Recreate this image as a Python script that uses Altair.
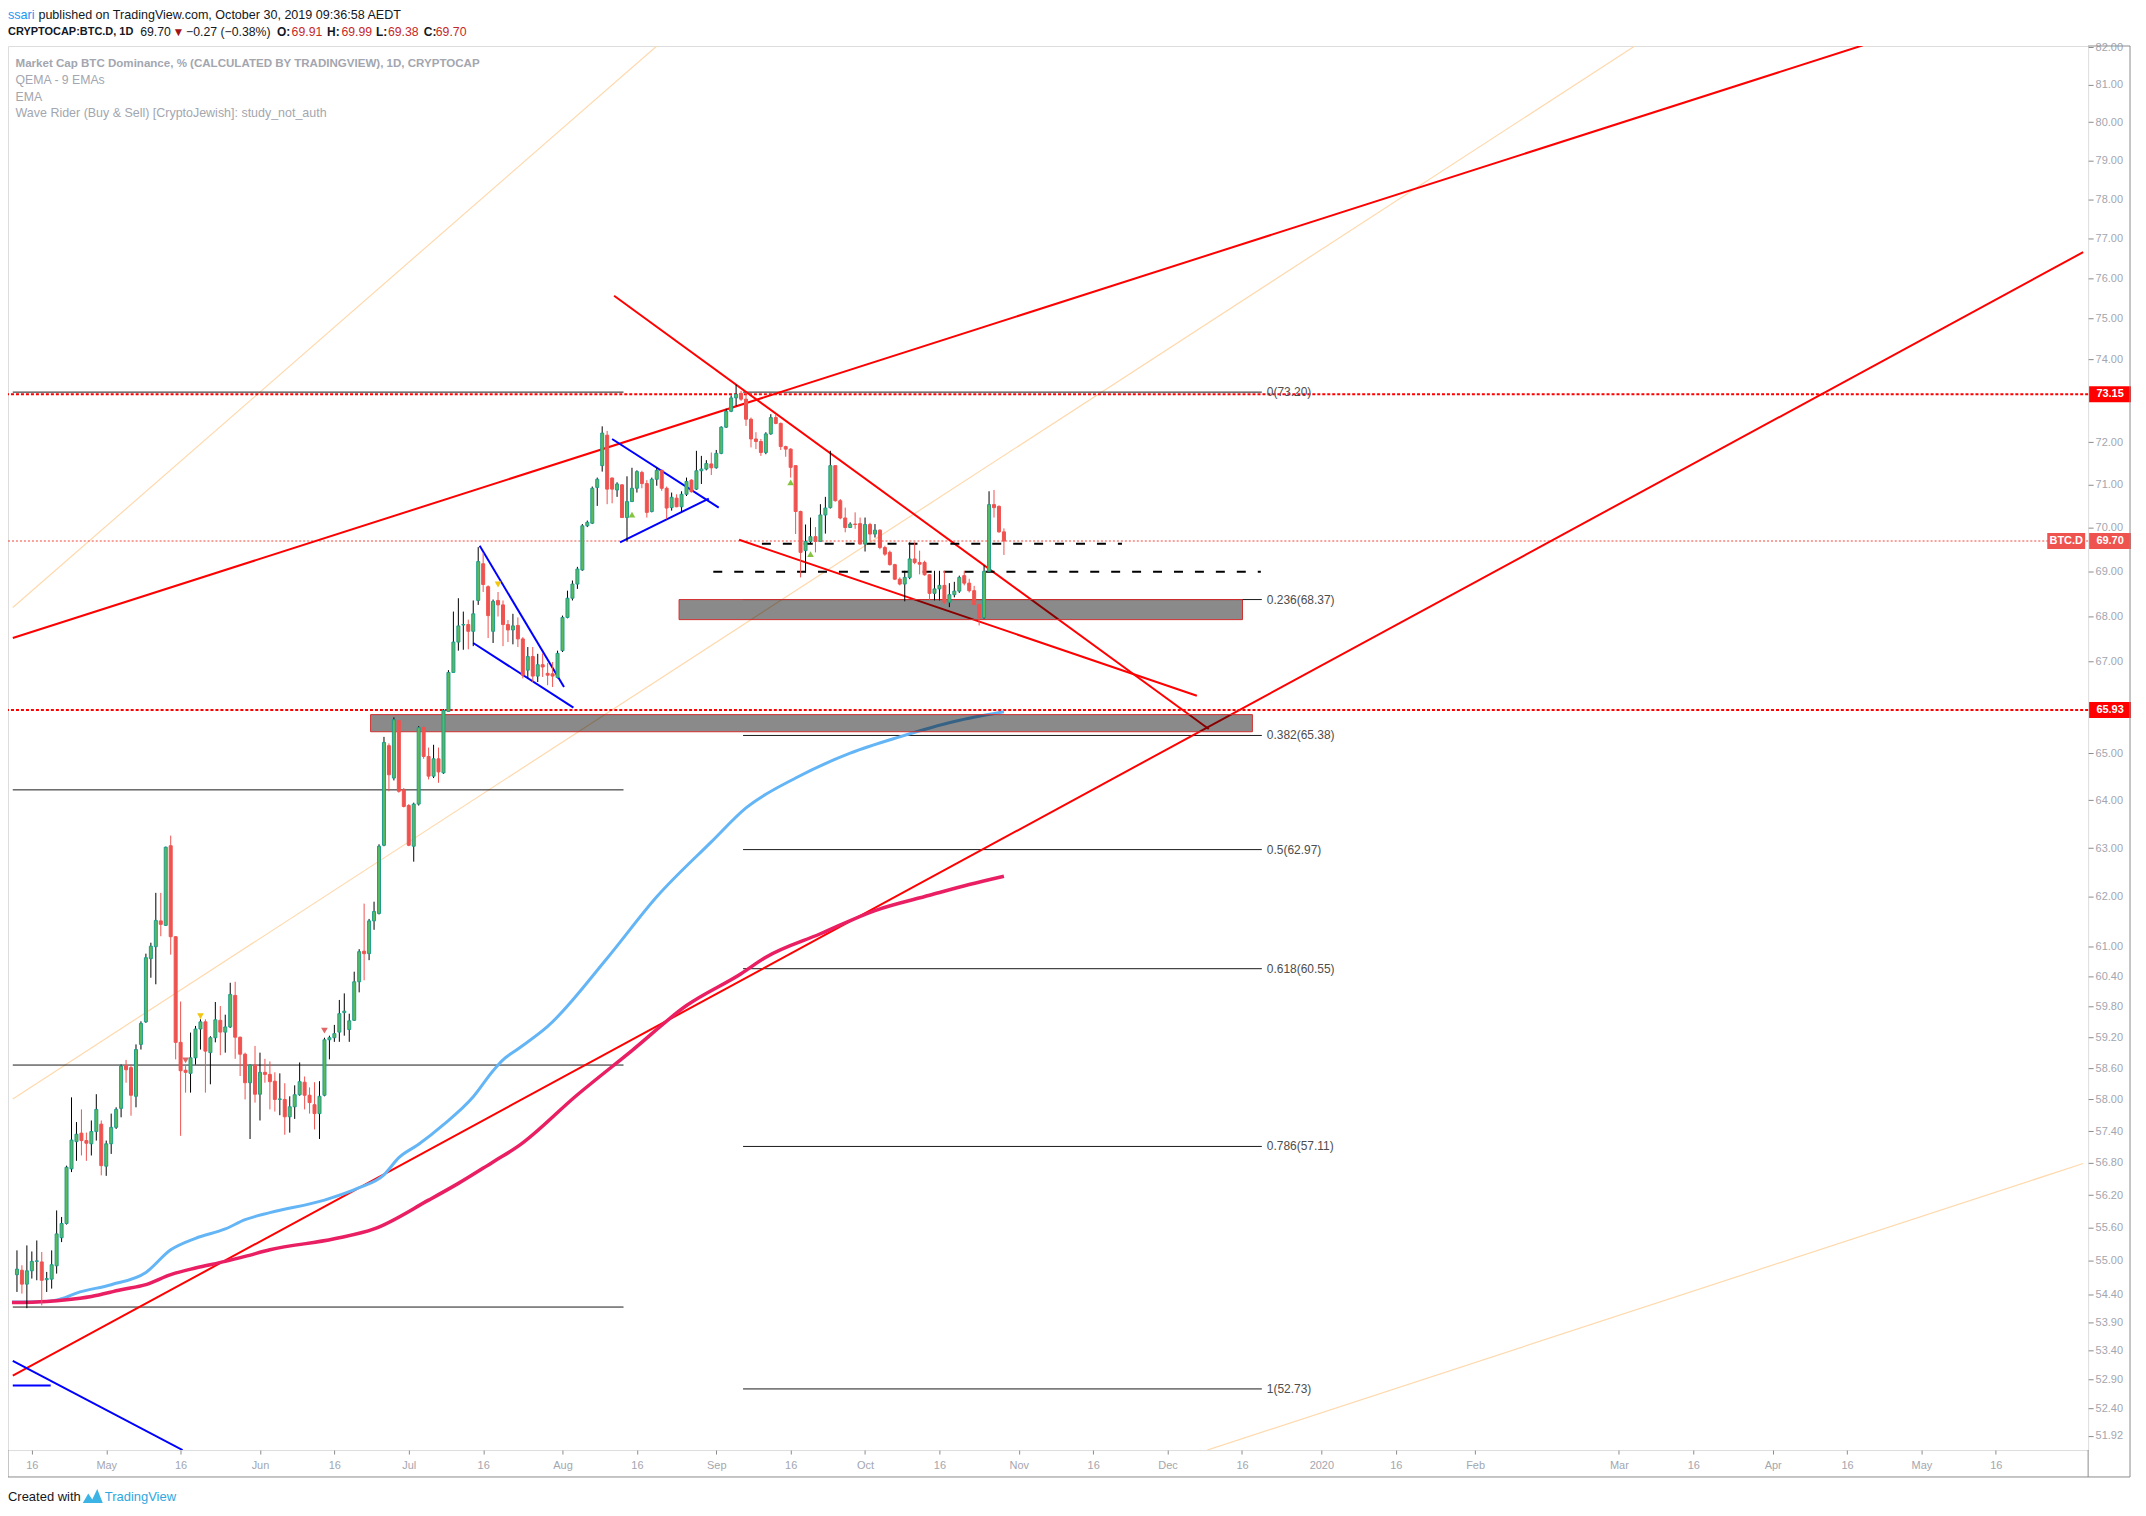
import altair as alt
import pandas as pd
import numpy as np

BASE_DAY = "2019-04-13"   # first daily candle

opens = [
    54.75, 54.83, 54.58, 54.82, 54.99, 54.98, 54.66, 54.67, 54.91, 55.42,
    55.68, 56.69, 57.20, 57.36, 57.22, 57.16, 57.39, 57.53, 56.74, 57.16,
    57.47, 57.83, 58.65, 58.61, 58.06, 59.06, 59.50, 60.75, 60.99, 61.51,
    61.42, 63.05, 61.19, 59.10, 58.56, 58.50, 58.80, 59.36, 59.50, 58.90,
    59.19, 59.53, 59.30, 59.40, 60.02, 59.20, 58.87, 58.32, 58.66, 58.10,
    58.52, 58.48, 58.35, 58.00, 58.00, 57.67, 57.86, 58.09, 58.33, 58.08,
    57.90, 57.73, 58.08, 59.15, 59.19, 59.30, 59.68, 59.35, 59.53, 60.29,
    60.90, 60.85, 61.51, 61.66, 63.06, 65.16, 64.47, 65.70, 64.22, 63.89,
    63.04, 63.92, 65.55, 64.93, 64.51, 64.88, 64.58, 65.90, 66.75, 67.42,
    67.80, 67.81, 67.66, 68.35, 69.18, 68.66, 67.66, 68.35, 68.25, 67.81,
    67.69, 67.79, 67.49, 66.80, 67.10, 66.67, 66.92, 66.73, 66.72, 66.64,
    67.23, 67.97, 68.40, 68.72, 69.04, 70.05, 70.11, 70.94, 71.45, 72.17,
    71.16, 70.88, 71.00, 70.24, 70.61, 70.92, 71.29, 71.03, 70.38, 71.13,
    71.34, 70.92, 70.47, 70.69, 70.49, 70.78, 71.11, 70.90, 71.33, 71.37,
    71.49, 71.40, 71.74, 72.36, 72.74, 73.06, 73.17, 73.03, 72.55, 72.08,
    72.02, 71.76, 72.20, 72.59, 72.45, 71.90, 71.84, 71.45, 70.38, 69.48,
    69.69, 69.80, 69.69, 70.30, 70.47, 71.45, 70.63, 70.23, 70.01, 70.09,
    70.10, 69.63, 70.08, 69.86, 69.95, 69.55, 69.44, 69.16, 68.83, 68.72,
    68.87, 69.29, 69.21, 69.21, 68.93, 68.51, 68.61, 68.69, 68.31, 68.48,
    68.56, 68.91, 68.74, 68.57, 68.26, 67.96, 69.01, 70.54, 70.50, 69.91,
]
highs = [
    55.19, 54.92, 55.28, 55.17, 55.37, 55.16, 54.80, 55.19, 55.92, 55.80,
    56.75, 58.04, 57.57, 57.81, 57.37, 57.60, 58.10, 57.60, 57.22, 57.73,
    57.85, 58.67, 58.76, 58.67, 59.06, 59.51, 60.85, 61.07, 62.08, 62.08,
    63.03, 63.26, 61.20, 59.90, 58.64, 59.29, 59.42, 59.55, 59.55, 59.22,
    59.89, 59.81, 59.64, 60.27, 60.29, 59.21, 58.90, 58.67, 59.03, 58.90,
    58.78, 58.73, 58.52, 58.50, 58.31, 58.06, 58.27, 58.71, 58.44, 58.23,
    58.33, 58.35, 59.19, 59.23, 59.44, 59.93, 60.06, 59.66, 60.49, 60.94,
    61.86, 61.55, 61.90, 63.08, 65.35, 65.21, 65.77, 65.72, 64.26, 63.92,
    63.95, 65.58, 65.58, 65.12, 65.18, 65.12, 65.95, 66.80, 68.10, 68.40,
    68.10, 67.92, 68.35, 69.56, 69.43, 68.69, 68.37, 68.54, 68.35, 67.91,
    68.05, 67.97, 67.53, 67.31, 67.31, 67.16, 67.17, 66.96, 66.98, 67.23,
    68.01, 68.57, 68.80, 69.11, 70.09, 70.17, 70.96, 71.17, 72.38, 72.27,
    71.17, 71.06, 71.02, 71.20, 71.40, 71.34, 71.33, 71.11, 71.17, 71.40,
    71.37, 70.96, 70.82, 70.78, 70.85, 71.17, 71.13, 71.80, 71.68, 71.58,
    71.76, 71.82, 72.38, 72.80, 73.12, 73.38, 73.23, 73.19, 72.59, 72.24,
    72.08, 72.24, 72.67, 72.67, 72.47, 71.92, 71.86, 71.45, 70.40, 70.08,
    70.24, 70.02, 70.55, 70.72, 71.80, 71.45, 70.67, 70.47, 70.13, 70.36,
    70.24, 70.24, 70.12, 70.09, 69.97, 69.59, 69.48, 69.18, 68.87, 69.02,
    69.67, 69.67, 69.48, 69.25, 68.94, 69.02, 69.02, 69.02, 68.74, 68.77,
    68.91, 69.02, 68.84, 68.68, 68.27, 69.14, 70.85, 70.88, 70.52, 69.99,
]
lows = [
    54.44, 54.41, 54.15, 54.68, 54.65, 54.20, 54.44, 54.50, 54.77, 55.34,
    55.66, 56.63, 56.84, 56.94, 56.84, 56.94, 57.22, 56.57, 56.56, 56.97,
    57.44, 57.66, 58.32, 57.69, 57.85, 58.96, 59.48, 60.37, 60.24, 61.20,
    61.41, 60.83, 58.77, 57.31, 58.13, 58.13, 58.67, 58.96, 58.13, 58.29,
    59.10, 58.85, 58.90, 59.38, 58.78, 58.45, 58.00, 57.25, 57.94, 57.60,
    58.32, 57.81, 57.77, 57.70, 57.33, 57.37, 57.63, 58.07, 57.81, 57.73,
    57.43, 57.25, 58.06, 58.77, 59.11, 59.11, 59.23, 59.11, 59.52, 60.08,
    60.32, 60.72, 61.33, 61.64, 63.04, 64.19, 64.42, 64.16, 63.85, 63.04,
    62.72, 63.89, 64.88, 64.44, 64.47, 64.37, 64.56, 65.90, 66.75, 67.23,
    67.25, 67.26, 67.33, 68.25, 68.54, 67.51, 67.40, 67.99, 67.33, 67.42,
    67.37, 67.31, 66.62, 66.62, 66.54, 66.54, 66.65, 66.47, 66.43, 66.62,
    67.20, 67.95, 68.35, 68.61, 69.02, 70.02, 70.09, 70.51, 71.31, 70.55,
    70.57, 70.72, 70.23, 69.69, 70.60, 70.82, 70.92, 70.24, 70.36, 70.98,
    70.86, 70.20, 70.40, 70.48, 70.36, 70.74, 70.82, 70.88, 71.02, 71.34,
    71.23, 71.38, 71.72, 72.34, 72.72, 72.87, 72.99, 72.39, 71.88, 71.84,
    71.68, 71.72, 72.18, 72.43, 71.82, 71.66, 71.17, 69.86, 68.87, 68.98,
    69.64, 69.44, 69.69, 69.87, 70.45, 70.61, 70.20, 69.90, 70.00, 69.98,
    69.62, 69.46, 69.71, 69.78, 69.51, 69.36, 69.14, 68.81, 68.69, 68.33,
    68.83, 69.17, 68.94, 68.91, 68.35, 68.35, 68.35, 68.27, 68.20, 68.42,
    68.52, 68.69, 68.53, 68.24, 67.79, 67.94, 68.99, 70.24, 69.89, 69.38,
]
closes = [
    54.85, 54.58, 54.82, 54.99, 55.00, 54.65, 54.68, 54.93, 55.49, 55.68,
    56.72, 57.23, 57.34, 57.22, 57.17, 57.39, 57.81, 56.75, 57.16, 57.47,
    57.81, 58.64, 58.57, 58.08, 58.96, 59.47, 60.77, 61.00, 61.52, 61.44,
    63.02, 61.19, 59.10, 58.55, 58.52, 58.80, 59.36, 59.50, 58.93, 59.19,
    59.54, 59.30, 59.40, 60.04, 59.20, 58.87, 58.32, 58.66, 58.10, 58.52,
    58.48, 58.34, 58.00, 58.01, 57.67, 57.86, 58.09, 58.34, 58.08, 57.94,
    57.73, 58.06, 59.15, 59.19, 59.27, 59.66, 59.71, 59.52, 60.29, 60.89,
    60.85, 61.51, 61.70, 63.04, 65.23, 64.54, 65.72, 64.19, 63.87, 63.06,
    63.92, 65.55, 64.93, 64.51, 64.88, 64.60, 65.92, 66.75, 67.42, 67.78,
    67.81, 67.66, 68.05, 69.23, 68.71, 68.01, 68.33, 68.25, 67.81, 67.69,
    67.78, 67.49, 66.69, 67.10, 66.67, 66.92, 66.87, 66.69, 66.67, 67.17,
    67.97, 68.40, 68.72, 69.06, 70.05, 70.13, 70.92, 71.13, 72.22, 70.90,
    70.90, 71.02, 70.24, 70.61, 70.92, 71.31, 71.03, 70.36, 71.13, 71.34,
    70.92, 70.46, 70.71, 70.49, 70.78, 71.08, 70.84, 71.33, 71.37, 71.50,
    71.40, 71.74, 72.36, 72.74, 73.06, 73.15, 73.03, 72.55, 72.08, 72.02,
    71.76, 72.20, 72.59, 72.45, 71.90, 71.84, 71.41, 70.38, 69.44, 69.69,
    69.80, 69.69, 70.30, 70.46, 71.45, 70.63, 70.23, 70.01, 70.09, 70.08,
    69.63, 70.08, 69.86, 69.95, 69.55, 69.40, 69.16, 68.83, 68.72, 68.87,
    69.29, 69.21, 69.17, 68.93, 68.51, 68.61, 68.69, 68.31, 68.48, 68.56,
    68.87, 68.74, 68.57, 68.26, 67.96, 69.01, 70.54, 70.47, 69.91, 69.70,
]

# EMA readings (day offset from BASE_DAY, value)
ema_blue_days = [-1, 6, 9, 12, 19, 26, 31, 36, 42, 46, 51, 62, 69, 74, 77, 81, 86, 92, 96,
                 98, 101, 107, 119, 129, 140, 147, 157, 168, 178, 189, 199]
ema_blue = [54.26, 54.27, 54.32, 54.42, 54.57, 54.79, 55.20, 55.41, 55.58, 55.75, 55.88,
            56.11, 56.34, 56.58, 56.90, 57.15, 57.52, 58.05, 58.55, 58.76, 58.97, 59.41,
            60.76, 62.00, 63.13, 63.84, 64.47, 65.00, 65.35, 65.68, 65.89]
ema_red_days = [-1, 6, 10, 15, 21, 26, 31, 36, 42, 46, 51, 64, 72, 83, 89, 96, 101, 113,
                124, 135, 146, 151, 162, 173, 184, 192, 199]
ema_red = [54.25, 54.27, 54.30, 54.36, 54.48, 54.57, 54.75, 54.87, 54.99, 55.08, 55.20,
           55.40, 55.58, 56.11, 56.42, 56.82, 57.11, 58.09, 58.94, 59.82, 60.45, 60.78,
           61.25, 61.72, 62.03, 62.25, 62.42]

# drawn trend lines: name, start day, start price, end day, end price
red_lines = [
    ("channel_top", -0.84, 67.51, 372.2, 82.05),
    ("channel_bottom", -0.84, 52.96, 416.6, 76.65),
    ("wedge_top", 120.4, 75.56, 240.3, 65.52),
    ("wedge_bottom", 145.6, 69.73, 237.9, 66.24),
]
blue_lines = [
    ("flag_top", 93.3, 69.59, 110.3, 66.43),
    ("flag_bottom", 92.0, 67.40, 112.2, 65.98),
    ("pennant_top", 120.0, 72.08, 141.5, 70.47),
    ("pennant_bottom", 121.6, 69.67, 139.5, 70.68),
    ("old_down", -0.84, 53.22, 33.4, 51.68),
    ("old_flat", -0.84, 52.79, 6.8, 52.79),
]
fan_lines = [
    ("fan_1", -0.84, 68.19, 129.0, 82.03),
    ("fan_2", -0.84, 58.01, 326.2, 82.03),
    ("fan_3", 240.0, 51.68, 416.6, 56.79),
]
left_levels = [73.20, 64.22, 58.66, 54.17]
left_level_span = (-0.84, 122.3)
fib_levels = [73.20, 68.37, 65.38, 62.97, 60.55, 57.11, 52.73]
fib_labels = ["0(73.20)", "0.236(68.37)", "0.382(65.38)", "0.5(62.97)",
              "0.618(60.55)", "0.786(57.11)", "1(52.73)"]
fib_span = (146.4, 251.0)
dashed_levels = [(150.2, 222.8, 69.64), (140.4, 250.8, 69.00)]
zones = [(133.5, 247.1, 67.92, 68.37), (71.3, 249.1, 65.46, 65.83)]
alert_levels = [73.15, 65.93]
last_price = 69.70
buy_marks = [(124, 70.31), (156, 71.06), (160, 69.40)]
sell_marks = [(34, 58.75), (62, 59.33)]
warn_marks = [(37, 59.61), (97, 68.71)]

# 73.00 and 66.00 sit under the alert price boxes, so they are not labelled
y_ticks = [82, 81, 80, 79, 78, 77, 76, 75, 74, 72, 71, 70, 69, 68, 67, 65, 64, 63,
           62, 61, 60.4, 59.8, 59.2, 58.6, 58.0, 57.4, 56.8, 56.2, 55.6, 55.0, 54.4, 53.9,
           53.4, 52.9, 52.4, 51.92]
x_ticks = ["2019-04-16", "2019-05-01", "2019-05-16", "2019-06-01", "2019-06-16",
           "2019-07-01", "2019-07-16", "2019-08-01", "2019-08-16", "2019-09-01",
           "2019-09-16", "2019-10-01", "2019-10-16", "2019-11-01", "2019-11-16",
           "2019-12-01", "2019-12-16", "2020-01-01", "2020-01-16", "2020-02-01",
           "2020-03-01", "2020-03-16", "2020-04-01", "2020-04-16", "2020-05-01",
           "2020-05-16"]
y_domain = [51.68, 82.03]
x_domain_days = (-0.8, 416.6)

# ---------------------------------------------------------------- helpers
W, H = 2086, 1408
GRAY = "#a3a6af"
FONT = "Liberation Sans"


def when(day):
    t = pd.Timestamp(BASE_DAY) + pd.to_timedelta(day, unit="D")
    return t.strftime("%Y-%m-%dT%H:%M:%SZ")


def dt(s):
    t = pd.Timestamp(s)
    return alt.DateTime(year=t.year, month=t.month, date=t.day,
                        hours=t.hour, minutes=t.minute, utc=True)


XS = alt.Scale(type="utc", domain=[dt(when(x_domain_days[0])), dt(when(x_domain_days[1]))])
YS = alt.Scale(type="log", domain=y_domain, nice=False)
XAX = alt.Axis(values=[dt(s) for s in x_ticks],
               labelExpr="utcdate(datum.value) == 1 ? (utcmonth(datum.value) == 0 ? "
                         "utcFormat(datum.value, '%Y') : utcFormat(datum.value, '%b')) : "
                         "utcFormat(datum.value, '%d')",
               grid=False, domain=False, tickSize=4, tickColor="#8c8c8c",
               labelColor=GRAY, labelFontSize=11, labelFont=FONT, labelPadding=5,
               labelOverlap=False, labelFlush=False, title=None)
YAX = alt.Axis(orient="right", values=y_ticks, format=".2f", grid=False, domain=False,
               tickSize=5, tickColor="#8c8c8c", labelColor=GRAY, labelFontSize=11,
               labelFont=FONT, labelPadding=2, labelOverlap=False, labelFlush=False,
               title=None)


def X(f):
    return alt.X(f"{f}:T", scale=XS, axis=XAX, title=None)


def Y(f):
    return alt.Y(f"{f}:Q", scale=YS, axis=YAX, title=None)


def seg_df(lines):
    rows = []
    for name, d0, p0, d1, p1 in lines:
        rows.append({"id": name, "date": when(d0), "price": p0})
        rows.append({"id": name, "date": when(d1), "price": p1})
    return pd.DataFrame(rows)


# ---------------------------------------------------------------- data frames
n = len(opens)
cdf = pd.DataFrame({"date": [when(i) for i in range(n)], "open": opens, "high": highs,
                    "low": lows, "close": closes})
cdf["dir"] = np.where(cdf["close"] >= cdf["open"], "up", "down")
cdf["blo"] = cdf[["open", "close"]].min(axis=1)
cdf["bhi"] = cdf[["open", "close"]].max(axis=1)

layers = []

# fan lines (light orange)
layers.append(alt.Chart(seg_df(fan_lines)).mark_line(color="#ffd9ad", strokeWidth=1.2, clip=True)
              .encode(x=X("date"), y=Y("price"), detail="id:N"))

# horizontal black levels on the left
lv = pd.DataFrame({"start": when(left_level_span[0]), "end": when(left_level_span[1]),
                   "price": left_levels})
layers.append(alt.Chart(lv).mark_rule(color="#1a1a1a", strokeWidth=1)
              .encode(x=X("start"), x2="end:T", y=Y("price")))

# fib retracement lines
fb = pd.DataFrame({"start": when(fib_span[0]), "end": when(fib_span[1]),
                   "price": fib_levels, "label": fib_labels})
layers.append(alt.Chart(fb).mark_rule(color="#1a1a1a", strokeWidth=1)
              .encode(x=X("start"), x2="end:T", y=Y("price")))

# alert dotted lines
al = pd.DataFrame({"price": alert_levels})
layers.append(alt.Chart(al).mark_rule(color="#ff0000", strokeWidth=2, strokeDash=[3, 2])
              .encode(y=Y("price")))
lp = pd.DataFrame({"price": [last_price]})
layers.append(alt.Chart(lp).mark_rule(color="#f44336", strokeWidth=1, strokeDash=[2, 2])
              .encode(y=Y("price")))

# trend lines
layers.append(alt.Chart(seg_df(red_lines)).mark_line(color="#ff0000", strokeWidth=2, clip=True)
              .encode(x=X("date"), y=Y("price"), detail="id:N"))
layers.append(alt.Chart(seg_df(blue_lines)).mark_line(color="#0000ff", strokeWidth=2, clip=True)
              .encode(x=X("date"), y=Y("price"), detail="id:N"))

# EMAs
eb = pd.DataFrame({"date": [when(d) for d in ema_blue_days], "price": ema_blue})
er = pd.DataFrame({"date": [when(d) for d in ema_red_days], "price": ema_red})
layers.append(alt.Chart(eb).mark_line(color="#64b5f6", strokeWidth=3, clip=True,
                                      interpolate="monotone")
              .encode(x=X("date"), y=Y("price")))
layers.append(alt.Chart(er).mark_line(color="#e91e63", strokeWidth=3.5, clip=True,
                                      interpolate="monotone")
              .encode(x=X("date"), y=Y("price")))

# zones
zd = pd.DataFrame([{"start": when(a), "end": when(b), "lo": lo, "hi": hi}
                   for a, b, lo, hi in zones])
layers.append(alt.Chart(zd).mark_rect(fill="#000000", fillOpacity=0.46, stroke="#d32f2f",
                                      strokeWidth=1)
              .encode(x=X("start"), x2="end:T", y=Y("lo"), y2="hi:Q"))

# dashed black levels
dd = pd.DataFrame([{"start": when(a), "end": when(b), "price": p} for a, b, p in dashed_levels])
layers.append(alt.Chart(dd).mark_rule(color="#000000", strokeWidth=2, strokeDash=[9, 12])
              .encode(x=X("start"), x2="end:T", y=Y("price")))

# candles
dir_scale_wick = alt.Scale(domain=["up", "down"], range=["#000000", "#ef5350"])
dir_scale_fill = alt.Scale(domain=["up", "down"], range=["#5cb85c", "#ef5350"])
dir_scale_stroke = alt.Scale(domain=["up", "down"], range=["#1f9c8c", "#ef5350"])
layers.append(alt.Chart(cdf).mark_rule(strokeWidth=1)
              .encode(x=X("date"), y=Y("low"), y2="high:Q",
                      color=alt.Color("dir:N", scale=dir_scale_wick, legend=None)))
layers.append(alt.Chart(cdf).mark_bar(size=3, strokeWidth=1)
              .encode(x=X("date"), y=Y("blo"), y2="bhi:Q",
                      fill=alt.Fill("dir:N", scale=dir_scale_fill, legend=None),
                      stroke=alt.Stroke("dir:N", scale=dir_scale_stroke, legend=None)))

# signal markers
for marks, shape, col in [(buy_marks, "triangle-up", "#86c440"),
                          (sell_marks, "triangle-down", "#e06666"),
                          (warn_marks, "triangle-down", "#f2c50f")]:
    md = pd.DataFrame({"date": [when(d) for d, _ in marks], "price": [p for _, p in marks]})
    layers.append(alt.Chart(md).mark_point(shape=shape, filled=True, size=45, fill=col,
                                           strokeWidth=0, opacity=1)
                  .encode(x=X("date"), y=Y("price")))

# fib labels
layers.append(alt.Chart(fb).mark_text(align="left", baseline="middle", dx=5, fontSize=12,
                                      font=FONT, color="#4d4d4d")
              .encode(x=X("end"), y=Y("price"), text="label:N"))

# price labels on the axis
RECT42 = "M-1,-0.381L1,-0.381L1,0.381L-1,0.381Z"
RECT38 = "M-1,-0.421L1,-0.421L1,0.421L-1,0.421Z"
for prices, col in [(alert_levels, "#ff0000"), ([last_price], "#ef5350")]:
    bd = pd.DataFrame({"price": prices, "label": [f"{v:.2f}" for v in prices]})
    layers.append(alt.Chart(bd).mark_point(shape=RECT42, size=1764, filled=True, fill=col,
                                           strokeWidth=0, opacity=1)
                  .encode(x=alt.value(W + 22), y=Y("price")))
    layers.append(alt.Chart(bd).mark_text(color="white", fontWeight="bold", fontSize=11,
                                          font=FONT, align="center", baseline="middle")
                  .encode(x=alt.value(W + 22), y=Y("price"), text="label:N"))
sym = pd.DataFrame({"price": [last_price], "label": ["BTC.D"]})
layers.append(alt.Chart(sym).mark_point(shape=RECT38, size=1444, filled=True, strokeWidth=0,
                                        opacity=1, fill="#ef5350")
              .encode(x=alt.value(W - 22), y=Y("price")))
layers.append(alt.Chart(sym).mark_text(color="white", fontWeight="bold", fontSize=11, font=FONT,
                                       align="center", baseline="middle")
              .encode(x=alt.value(W - 22), y=Y("price"), text="label:N"))


# ---------------------------------------------------------------- texts & frame
def txt(s, x, y, size=12, color="#131722", weight="normal"):
    return (alt.Chart(pd.DataFrame({"t": [s]}))
            .mark_text(align="left", baseline="middle", fontSize=size, font=FONT,
                       color=color, fontWeight=weight)
            .encode(x=alt.value(x), y=alt.value(y), text="t:N"))


RED = "#c62828"
layers += [
    txt("ssari", 0, -31.5, 12.6, "#2196f3"),
    txt("published on TradingView.com, October 30, 2019 09:36:58 AEDT", 30.5, -31.5, 12.6),
    txt("CRYPTOCAP:BTC.D, 1D", 0, -14, 11, weight="bold"),
    txt("69.70", 132.6, -14, 12.3),
    txt("\u25bc", 165, -14, 12, "#a31515"),
    txt("\u22120.27 (\u22120.38%)", 178.6, -14, 12.3),
    txt("O:", 269.7, -14, 12, weight="bold"), txt("69.91", 284.4, -14, 12.3, RED),
    txt("H:", 320, -14, 12, weight="bold"), txt("69.99", 334.4, -14, 12.3, RED),
    txt("L:", 369, -14, 12, weight="bold"), txt("69.38", 381, -14, 12.3, RED),
    txt("C:", 417, -14, 12, weight="bold"), txt("69.70", 429, -14, 12.3, RED),
    txt("Market Cap BTC Dominance, % (CALCULATED BY TRADINGVIEW), 1D, CRYPTOCAP",
        7.6, 17.7, 11.6, GRAY, "bold"),
    txt("QEMA - 9 EMAs", 7.6, 33.7, 12.3, GRAY),
    txt("EMA", 7.6, 51, 12.3, GRAY),
    txt("Wave Rider (Buy & Sell) [CryptoJewish]: study_not_auth", 7.6, 67, 12.5, GRAY),
    txt("Created with", 0, 1455, 13, "#131722"),
    txt("TradingView", 97, 1455, 13, "#2ea7e0"),
]
layers.append(alt.Chart(pd.DataFrame({"a": [0]}))
              .mark_point(shape="M-1,0.7L-0.45,-0.25L-0.05,0.35L0.45,-0.7L1,0.7Z", size=400,
                          filled=True, fill="#3bb3e4", strokeWidth=0, opacity=1)
              .encode(x=alt.value(85), y=alt.value(1454)))

FRAME = "#8c8c8c"
frame_segments = [  # x, x2, y, y2 in view pixels
    (W + 42, W + 42, 0, H + 27),
    (0, W + 42, H + 27, H + 27),
    (0, 0, H, H + 27),
    (W, W, H, H + 27),
    (W, W + 42, 0, 0),
]
for x1, x2, y1, y2 in frame_segments:
    layers.append(alt.Chart(pd.DataFrame({"a": [0]})).mark_rule(color=FRAME, strokeWidth=1)
                  .encode(x=alt.value(x1), x2=alt.value(x2), y=alt.value(y1), y2=alt.value(y2)))

chart = (alt.layer(*layers)
         .properties(width=W, height=H, background="white",
                     padding={"left": 0, "top": 36, "right": 50, "bottom": 60},
                     autosize=alt.AutoSizeParams(type="none"))
         .configure_view(stroke=FRAME, strokeWidth=1)
         .configure(font=FONT))

chart.save("out.html", embed_options={"renderer": "svg", "actions": False})
